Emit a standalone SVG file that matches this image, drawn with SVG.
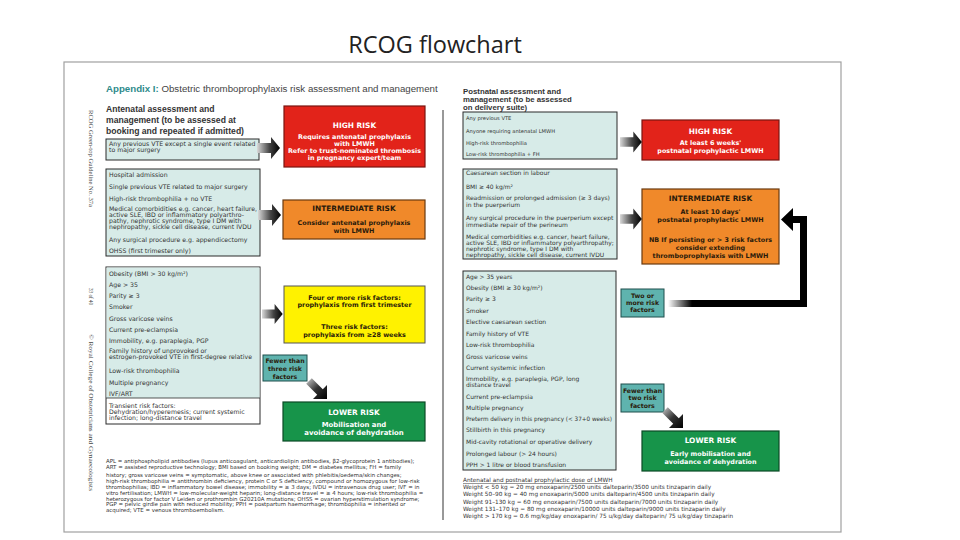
<svg xmlns="http://www.w3.org/2000/svg" width="960" height="540" viewBox="0 0 960 540">
<defs>
<style>
.t{font-family:"DejaVu Sans","Liberation Sans",Arial,sans-serif;font-size:6.2px;fill:#333}
.rt{font-size:6px}
.s{font-size:5.45px}
.d{font-size:5.75px}
.r1{font-size:5.2px}
.h{font-family:"Liberation Sans",Arial,sans-serif;font-weight:bold;fill:#333}
.b{font-weight:bold;font-size:6.4px}
.g{font-weight:bold;font-size:6.9px}
.bt{font-weight:bold;font-size:7.4px}
.bs{font-weight:bold;font-size:6.2px}
.c{text-anchor:middle}
.w{fill:#fff}
.k{fill:#2a1a0a}
.side{font-family:"Liberation Serif","Times New Roman",serif;font-size:6.8px;fill:#444}
.lt{fill:#d7ebe8;stroke:#2b2b2b;stroke-width:1}
.mt{fill:#5fb3ae;stroke:#1f4f4c;stroke-width:1}
.red{fill:#e2231a;stroke:#7a1410;stroke-width:1.2}
.org{fill:#f0892a;stroke:#6a3a10;stroke-width:1.2}
.yel{fill:#fff200;stroke:#555;stroke-width:1}
.grn{fill:#17944a;stroke:#0a4a25;stroke-width:1.2}
</style>
<linearGradient id="ag" x1="0" y1="0" x2="1" y2="0">
<stop offset="0" stop-color="#d8d8d8"/><stop offset="0.55" stop-color="#444"/><stop offset="1" stop-color="#000"/>
</linearGradient>
<linearGradient id="dg" x1="0" y1="0" x2="1" y2="1">
<stop offset="0" stop-color="#d0d0d0"/><stop offset="0.5" stop-color="#333"/><stop offset="1" stop-color="#000"/>
</linearGradient>
<linearGradient id="lg" x1="0" y1="0" x2="1" y2="0">
<stop offset="0" stop-color="#fff"/><stop offset="1" stop-color="#000"/>
</linearGradient>
<path id="arr" d="M0,-5 H14 V-11 L23,0 L14,11 V5 H0 Z" fill="url(#ag)"/>
<path id="darr" d="M0,0 L0,-14 L-4.2,-9.8 L-15.2,-20.8 L-20.8,-15.2 L-9.8,-4.2 L-14,0 Z" fill="url(#dg)"/>
</defs>
<rect width="960" height="540" fill="#fff"/>
<text x="435" y="53" font-family="Open Sans,Liberation Sans,sans-serif" font-size="23.5" fill="#222" text-anchor="middle">RCOG flowchart</text>
<rect x="64" y="62" width="777" height="470" fill="#fff" stroke="#a0a0a0" stroke-width="1.2"/>
<g id="sidetext">
<text class="side" transform="translate(89,110) rotate(90)" textLength="97" lengthAdjust="spacingAndGlyphs">RCOG Green-top Guideline No. 37a</text>
<text class="side" transform="translate(89,288) rotate(90)" textLength="17" lengthAdjust="spacingAndGlyphs">33 of 40</text>
<text class="side" transform="translate(89,334) rotate(90)" textLength="157" lengthAdjust="spacingAndGlyphs">© Royal College of Obstetricians and Gynaecologists</text>
</g>
<g id="heading">
<text x="106" y="92" font-family="Liberation Sans,Arial,sans-serif" font-size="9.7" fill="#444"><tspan font-weight="bold" fill="#2e8b8b">Appendix I:</tspan> Obstetric thromboprophylaxis risk assessment and management</text>
<text class="h" x="106" y="112" font-size="8.6">Antenatal assessment and</text>
<text class="h" x="106" y="123" font-size="8.6">management (to be assessed at</text>
<text class="h" x="106" y="134" font-size="8.6">booking and repeated if admitted)</text>
<text class="h" x="463" y="94" font-size="7.8">Postnatal assessment and</text>
<text class="h" x="463" y="102" font-size="7.8">management (to be assessed</text>
<text class="h" x="463" y="110" font-size="7.8">on delivery suite)</text>
<line x1="443" y1="110" x2="443" y2="520" stroke="#333" stroke-width="1"/>
</g>
<g id="a_box1">
<rect class="lt" x="106" y="139" width="153" height="21"/>
<text class="t" x="109" y="145.5" font-size="5.8">Any previous VTE except a single event related</text>
<text class="t" x="109" y="151.5" font-size="5.8">to major surgery</text>
</g>
<g id="a_box2">
<rect class="lt" x="106" y="169" width="154" height="87"/>
<text class="t" x="109" y="177">Hospital admission</text>
<text class="t" x="109" y="189">Single previous VTE related to major surgery</text>
<text class="t" x="109" y="200.5">High-risk thrombophilia + no VTE</text>
<text class="t" x="109" y="211">Medical comorbidities e.g. cancer, heart failure,</text>
<text class="t" x="109" y="217">active SLE, IBD or inflammatory polyarthro-</text>
<text class="t" x="109" y="223">pathy, nephrotic syndrome, type I DM with</text>
<text class="t" x="109" y="229">nephropathy, sickle cell disease, current IVDU</text>
<text class="t" x="109" y="242">Any surgical procedure e.g. appendicectomy</text>
<text class="t" x="109" y="253">OHSS (first trimester only)</text>
</g>
<g id="a_box3">
<rect x="106" y="267" width="154" height="157" fill="#fff" stroke="#2b2b2b"/>
<rect x="106.5" y="267.5" width="153" height="130.5" fill="#d7ebe8"/>
<line x1="106" y1="398" x2="260" y2="398" stroke="#2b2b2b" stroke-width="0.8"/>
<text class="t" x="109" y="276">Obesity (BMI &gt; 30 kg/m²)</text>
<text class="t" x="109" y="287">Age &gt; 35</text>
<text class="t" x="109" y="298">Parity ≥ 3</text>
<text class="t" x="109" y="309">Smoker</text>
<text class="t" x="109" y="321">Gross varicose veins</text>
<text class="t" x="109" y="332">Current pre-eclampsia</text>
<text class="t" x="109" y="343">Immobility, e.g. paraplegia, PGP</text>
<text class="t" x="109" y="353">Family history of unprovoked or</text>
<text class="t" x="109" y="359">estrogen-provoked VTE in first-degree relative</text>
<text class="t" x="109" y="373">Low-risk thrombophilia</text>
<text class="t" x="109" y="385">Multiple pregnancy</text>
<text class="t" x="109" y="396">IVF/ART</text>
<text class="t" x="109" y="407.5">Transient risk factors:</text>
<text class="t" x="109" y="413.5">Dehydration/hyperemesis; current systemic</text>
<text class="t" x="109" y="419.5">infection; long-distance travel</text>
</g>
<g id="a_high">
<rect class="red" x="284" y="106" width="141" height="61"/>
<text class="t bt w c" x="354.5" y="127.5">HIGH RISK</text>
<text class="t b w c" x="354.5" y="138.5">Requires antenatal prophylaxis</text>
<text class="t b w c" x="354.5" y="145.5">with LMWH</text>
<text class="t b w c" x="354.5" y="152.5">Refer to trust-nominated thrombosis</text>
<text class="t b w c" x="354.5" y="159.5">in pregnancy expert/team</text>
</g>
<g id="a_inter">
<rect class="org" x="283" y="200" width="142" height="39"/>
<text class="t bt k c" x="354" y="211">INTERMEDIATE RISK</text>
<text class="t b k c" x="354" y="224.5">Consider antenatal prophylaxis</text>
<text class="t b k c" x="354" y="233">with LMWH</text>
</g>
<g id="a_yellow">
<rect class="yel" x="284" y="286" width="141" height="57"/>
<text class="t b k c" x="354.5" y="299.5">Four or more risk factors:</text>
<text class="t b k c" x="354.5" y="307">prophylaxis from first trimester</text>
<text class="t b k c" x="354.5" y="328.5">Three risk factors:</text>
<text class="t b k c" x="354.5" y="336.5">prophylaxis from ≥28 weeks</text>
</g>
<g id="a_fewer">
<rect class="mt" x="263" y="355" width="44" height="26"/>
<text class="t bs k c" x="285" y="363">Fewer than</text>
<text class="t bs k c" x="285" y="371">three risk</text>
<text class="t bs k c" x="285" y="379">factors</text>
</g>
<g id="a_lower">
<rect class="grn" x="283" y="402" width="142" height="39"/>
<text class="t bt w c" x="354" y="414.5">LOWER RISK</text>
<text class="t g w c" x="354" y="427">Mobilisation and</text>
<text class="t g w c" x="354" y="435">avoidance of dehydration</text>
</g>
<g id="abbrev">
<text class="t s" x="106" y="463">APL = antiphospholipid antibodies (lupus anticoagulant, anticardiolipin antibodies, β2-glycoprotein 1 antibodies);</text>
<text class="t s" x="106" y="469">ART = assisted reproductive technology; BMI based on booking weight; DM = diabetes mellitus; FH = family</text>
<text class="t s" x="106" y="476.5">history; gross varicose veins = symptomatic, above knee or associated with phlebitis/oedema/skin changes;</text>
<text class="t s" x="106" y="482.5">high-risk thrombophilia = antithrombin deficiency, protein C or S deficiency, compound or homozygous for low-risk</text>
<text class="t s" x="106" y="488.5">thrombophilias; IBD = inflammatory bowel disease; immobility = ≥ 3 days; IVDU = intravenous drug user; IVF = in</text>
<text class="t s" x="106" y="494.5">vitro fertilisation; LMWH = low-molecular-weight heparin; long-distance travel = ≥ 4 hours; low-risk thrombophilia =</text>
<text class="t s" x="106" y="500.5">heterozygous for factor V Leiden or prothrombin G20210A mutations; OHSS = ovarian hyperstimulation syndrome;</text>
<text class="t s" x="106" y="506">PGP = pelvic girdle pain with reduced mobility; PPH = postpartum haemorrhage; thrombophilia = inherited or</text>
<text class="t s" x="106" y="512">acquired; VTE = venous thromboembolism.</text>
</g>
<g id="p_box1">
<rect class="lt" x="463" y="112" width="154" height="47"/>
<text class="t r1" x="466" y="120">Any previous VTE</text>
<text class="t r1" x="466" y="133">Anyone requiring antenatal LMWH</text>
<text class="t r1" x="466" y="145">High-risk thrombophilia</text>
<text class="t r1" x="466" y="156">Low-risk thrombophilia + FH</text>
</g>
<g id="p_box2">
<rect class="lt" x="463" y="169" width="154" height="90"/>
<text class="t rt" x="466" y="174.5">Caesarean section in labour</text>
<text class="t rt" x="466" y="189">BMI ≥ 40 kg/m²</text>
<text class="t rt" x="466" y="200">Readmission or prolonged admission (≥ 3 days)</text>
<text class="t rt" x="466" y="207">in the puerperium</text>
<text class="t rt" x="466" y="220">Any surgical procedure in the puerperium except</text>
<text class="t rt" x="466" y="227">immediate repair of the perineum</text>
<text class="t rt" x="466" y="239">Medical comorbidities e.g. cancer, heart failure,</text>
<text class="t rt" x="466" y="245">active SLE, IBD or inflammatory polyarthropathy;</text>
<text class="t rt" x="466" y="251">nephrotic syndrome, type I DM with</text>
<text class="t rt" x="466" y="257">nephropathy, sickle cell disease, current IVDU</text>
</g>
<g id="p_box3">
<rect class="lt" x="463" y="271" width="153" height="199"/>
<text class="t rt" x="466" y="279">Age &gt; 35 years</text>
<text class="t rt" x="466" y="290">Obesity (BMI ≥ 30 kg/m²)</text>
<text class="t rt" x="466" y="301">Parity ≥ 3</text>
<text class="t rt" x="466" y="313">Smoker</text>
<text class="t rt" x="466" y="324">Elective caesarean section</text>
<text class="t rt" x="466" y="336">Family history of VTE</text>
<text class="t rt" x="466" y="347">Low-risk thrombophilia</text>
<text class="t rt" x="466" y="359">Gross varicose veins</text>
<text class="t rt" x="466" y="370">Current systemic infection</text>
<text class="t rt" x="466" y="381">Immobility, e.g. paraplegia, PGP, long</text>
<text class="t rt" x="466" y="387">distance travel</text>
<text class="t rt" x="466" y="399">Current pre-eclampsia</text>
<text class="t rt" x="466" y="410">Multiple pregnancy</text>
<text class="t rt" x="466" y="420.5" textLength="146" lengthAdjust="spacingAndGlyphs">Preterm delivery in this pregnancy (&lt; 37+0 weeks)</text>
<text class="t rt" x="466" y="432">Stillbirth in this pregnancy</text>
<text class="t rt" x="466" y="444">Mid-cavity rotational or operative delivery</text>
<text class="t rt" x="466" y="456">Prolonged labour (&gt; 24 hours)</text>
<text class="t rt" x="466" y="466.5">PPH &gt; 1 litre or blood transfusion</text>
</g>
<g id="p_high">
<rect class="red" x="642" y="120" width="137" height="40"/>
<text class="t bt w c" x="710.5" y="133.5">HIGH RISK</text>
<text class="t b w c" x="710.5" y="144.5">At least 6 weeks'</text>
<text class="t b w c" x="710.5" y="153">postnatal prophylactic LMWH</text>
</g>
<g id="p_inter">
<rect class="org" x="642" y="189" width="137" height="75"/>
<text class="t bt k c" x="710.5" y="200.5">INTERMEDIATE RISK</text>
<text class="t b k c" x="710.5" y="213.5">At least 10 days'</text>
<text class="t b k c" x="710.5" y="221.5">postnatal prophylactic LMWH</text>
<text class="t b k c" x="710.5" y="241.5">NB If persisting or &gt; 3 risk factors</text>
<text class="t b k c" x="710.5" y="249.5">consider extending</text>
<text class="t b k c" x="710.5" y="257.5">thromboprophylaxis with LMWH</text>
</g>
<g id="p_two">
<rect class="mt" x="621" y="289" width="43" height="28"/>
<text class="t bs k c" x="642.5" y="298">Two or</text>
<text class="t bs k c" x="642.5" y="305">more risk</text>
<text class="t bs k c" x="642.5" y="312">factors</text>
</g>
<g id="p_fewer">
<rect class="mt" x="621" y="384" width="43" height="28"/>
<text class="t bs k c" x="642.5" y="393">Fewer than</text>
<text class="t bs k c" x="642.5" y="400">two risk</text>
<text class="t bs k c" x="642.5" y="408">factors</text>
</g>
<g id="p_lower">
<rect class="grn" x="642" y="431" width="137" height="40"/>
<text class="t bt w c" x="710.5" y="442.5">LOWER RISK</text>
<text class="t b w c" x="710.5" y="455.5">Early mobilisation and</text>
<text class="t b w c" x="710.5" y="464">avoidance of dehydration</text>
</g>
<g id="dosing">
<text class="t d" x="463" y="482">Antenatal and postnatal prophylactic dose of LMWH</text>
<line x1="463" y1="483.5" x2="608" y2="483.5" stroke="#333" stroke-width="0.5"/>
<text class="t d" x="463" y="489">Weight &lt; 50 kg = 20 mg enoxaparin/2500 units dalteparin/3500 units tinzaparin daily</text>
<text class="t d" x="463" y="496">Weight 50–90 kg = 40 mg enoxaparin/5000 units dalteparin/4500 units tinzaparin daily</text>
<text class="t d" x="463" y="504">Weight 91–130 kg = 60 mg enoxaparin/7500 units dalteparin/7000 units tinzaparin daily</text>
<text class="t d" x="463" y="511">Weight 131–170 kg = 80 mg enoxaparin/10000 units dalteparin/9000 units tinzaparin daily</text>
<text class="t d" x="463" y="518">Weight &gt; 170 kg = 0.6 mg/kg/day enoxaparin/ 75 u/kg/day dalteparin/ 75 u/kg/day tinzaparin</text>
</g>
<g id="connectors">
<use href="#arr" transform="translate(257,148)"/>
<use href="#arr" transform="translate(258,215)"/>
<use href="#arr" transform="translate(262,314) scale(0.9)"/>
<use href="#darr" transform="translate(327,399)"/>
<use href="#arr" transform="translate(620,142) scale(0.95)"/>
<use href="#arr" transform="translate(620,219) scale(0.95)"/>
<use href="#darr" transform="translate(683,428)"/>
<rect x="668" y="300" width="24" height="7" fill="url(#lg)"/>
<path d="M692,300 H800 V223 H793 V231 L781,219.5 L793,208 V216 H807 V307 H692 Z" fill="#000"/>
</g>
</svg>
